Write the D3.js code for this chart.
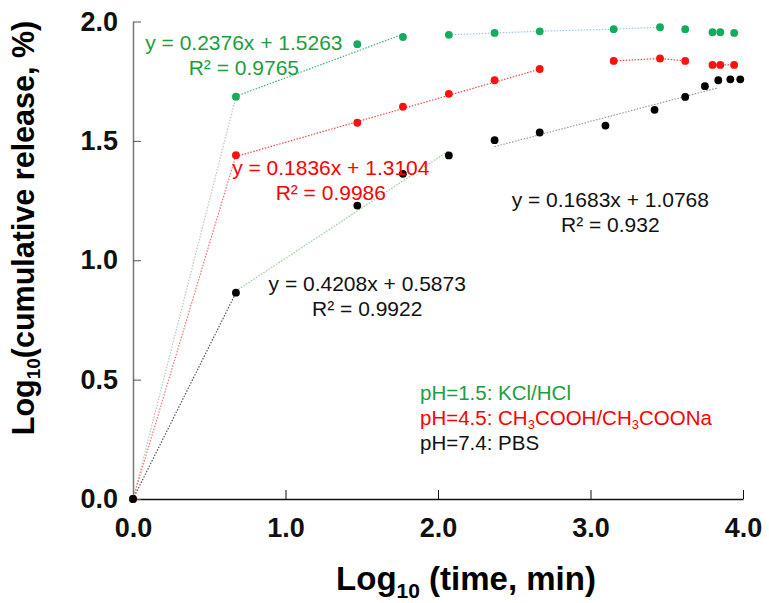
<!DOCTYPE html>
<html>
<head>
<meta charset="utf-8">
<script src="https://cdn.jsdelivr.net/npm/d3@7"></script>
<style>
  body { margin: 0; background: #fff; }
  text { font-family: "Liberation Sans", Arial, sans-serif; }
</style>
</head>
<body>
<div id="chart"></div>
<script>
// log10(time, min) and log10(cumulative release, %) per medium
var logT15 = [0, 0.675, 1.471, 1.770, 2.071, 2.371, 2.667, 3.152, 3.456, 3.621, 3.800, 3.851, 3.942];
var logR15 = [0, 1.685, 1.905, 1.935, 1.944, 1.952, 1.959, 1.968, 1.976, 1.968, 1.955, 1.955, 1.952];
var logT45 = [0, 0.675, 1.471, 1.770, 2.071, 2.371, 2.667, 3.152, 3.456, 3.621, 3.800, 3.851, 3.942];
var logR45 = [0, 1.440, 1.576, 1.643, 1.697, 1.754, 1.801, 1.835, 1.845, 1.835, 1.818, 1.818, 1.818];
var logT74 = [0, 0.675, 1.471, 1.770, 2.071, 2.371, 2.667, 3.098, 3.420, 3.621, 3.750, 3.838, 3.917, 3.982];
var logR74 = [0, 0.864, 1.229, 1.362, 1.439, 1.503, 1.535, 1.564, 1.630, 1.684, 1.729, 1.754, 1.758, 1.758];

// linear fits (Excel trendlines)
var fitSlope = [0.2376, 0.1836, 0.4208, 0.1683];
var fitIntercept = [1.5263, 1.3104, 0.5873, 1.0768];
var fitR2 = ['0.9765', '0.9986', '0.9922', '0.932'];
var fitFrom = [0.675, 0.675, 0.675, 2.371];
var fitTo = [1.770, 2.667, 2.070, 3.833];

var xTicks = [0, 1, 2, 3, 4];
var yTicks = [0, 0.5, 1, 1.5, 2];

(function() {
    var width = 769,
        height = 603,
        margin = {top: 21.5, right: 26, bottom: 104, left: 133},
        green = '#1b9e3e',
        greenDot = '#13ac5c',
        red = '#ff1010',
        black = '#000';

    var svg = d3.select('#chart').append('svg')
        .attr('width', width)
        .attr('height', height);

    var x = d3.scaleLinear().domain([0, 4]).range([margin.left, width - margin.right]);
    var y = d3.scaleLinear().domain([0, 2]).range([height - margin.bottom, margin.top]);

    // axes, ticks point inwards
    var xAxis = svg.append('g')
        .attr('transform', 'translate(0,' + y(0) + ')')
        .call(d3.axisBottom(x).tickValues(xTicks).tickSizeInner(-9).tickSizeOuter(0)
            .tickPadding(19).tickFormat(d3.format('.1f')));
    xAxis.select('.domain').attr('stroke', '#111').attr('stroke-width', 1.3);
    xAxis.selectAll('.tick line').attr('stroke', '#111');
    xAxis.selectAll('.tick text')
        .attr('font-size', 27).attr('font-weight', 'bold').attr('fill', '#111')
        .attr('font-family', '"Liberation Sans", Arial, sans-serif');

    var yAxis = svg.append('g')
        .attr('transform', 'translate(' + x(0) + ',0)')
        .call(d3.axisLeft(y).tickValues(yTicks).tickSizeInner(-8).tickSizeOuter(0)
            .tickPadding(15).tickFormat(d3.format('.1f')));
    yAxis.select('.domain').attr('stroke', '#777').attr('stroke-width', 1.5);
    yAxis.selectAll('.tick line').attr('stroke', '#555');
    yAxis.selectAll('.tick text')
        .attr('font-size', 27).attr('font-weight', 'bold').attr('fill', '#111')
        .attr('font-family', '"Liberation Sans", Arial, sans-serif');

    // axis titles
    var xt = svg.append('text')
        .attr('x', (x(0) + x(4)) / 2 + 28)
        .attr('y', 590)
        .attr('text-anchor', 'middle')
        .attr('font-size', 33)
        .attr('font-weight', 'bold');
    xt.append('tspan').text('Log');
    xt.append('tspan').attr('font-size', 21).attr('dy', 8).text('10');
    xt.append('tspan').attr('dy', -8).text(' (time, min)');

    var yt = svg.append('text')
        .attr('transform', 'translate(34,' + 228 + ') rotate(-90)')
        .attr('text-anchor', 'middle')
        .attr('font-size', 30.5)
        .attr('font-weight', 'bold');
    yt.append('tspan').text('Log');
    yt.append('tspan').attr('font-size', 19).attr('dy', 6).text('10');
    yt.append('tspan').attr('dy', -6).text('(cumulative release, %)');

    var line = d3.line().x(function(d) { return x(d[0]); }).y(function(d) { return y(d[1]); });

    function pts(xs, ys, i0, i1) {
        var out = [];
        for (var i = i0; i <= i1; i++) out.push([xs[i], ys[i]]);
        return out;
    }

    function fitLine(k) {
        return [[fitFrom[k], fitSlope[k] * fitFrom[k] + fitIntercept[k]],
                [fitTo[k], fitSlope[k] * fitTo[k] + fitIntercept[k]]];
    }

    function dotted(data, color) {
        svg.append('path')
            .attr('d', line(data))
            .attr('fill', 'none')
            .attr('stroke', color)
            .attr('stroke-width', 1.2)
            .attr('stroke-dasharray', '1.5,1.5');
    }

    // connecting lines and trendlines
    dotted(pts(logT15, logR15, 0, 1), '#b5c9b5');
    dotted(pts(logT45, logR45, 0, 1), '#f07070');
    dotted(pts(logT74, logR74, 0, 1), '#555');
    dotted(fitLine(0), '#40b070');
    dotted(fitLine(1), '#f04848');
    dotted(fitLine(2), '#8fd08f');
    dotted(fitLine(3), '#9a9a9a');
    dotted(pts(logT15, logR15, 4, 8), '#9cc6e0');
    dotted(pts(logT45, logR45, 7, 9), '#f04848');
    dotted(pts(logT45, logR45, 10, 12), '#f04848');

    // points
    function dots(xs, ys, color) {
        svg.append('g').selectAll('circle')
            .data(xs.map(function(d, i) { return [d, ys[i]]; }))
            .enter().append('circle')
            .attr('cx', function(d) { return x(d[0]); })
            .attr('cy', function(d) { return y(d[1]); })
            .attr('r', 3.9)
            .attr('fill', color);
    }
    dots(logT15, logR15, greenDot);
    dots(logT45, logR45, red);
    dots(logT74, logR74, black);

    // equations
    var eqPos = [[0.727, 1.91], [1.297, 1.387], [1.536, 0.901], [3.13, 1.253]];
    var eqColor = [green, '#ff0000', '#111', '#111'];
    eqPos.forEach(function(p, k) {
        svg.append('text')
            .attr('x', x(p[0])).attr('y', y(p[1]))
            .attr('dy', '0.35em')
            .attr('text-anchor', 'middle')
            .attr('font-size', 21)
            .attr('fill', eqColor[k])
            .text('y = ' + fitSlope[k] + 'x + ' + fitIntercept[k]);
        svg.append('text')
            .attr('x', x(p[0]) + 0).attr('y', y(p[1]) + 24.5)
            .attr('dy', '0.35em')
            .attr('text-anchor', 'middle')
            .attr('font-size', 21)
            .attr('fill', eqColor[k])
            .text('R\u00b2 = ' + fitR2[k]);
    });

    // legend
    var lg = svg.append('g').attr('transform', 'translate(420,393)').attr('font-size', 20.5);
    lg.append('text').attr('dy', '0.35em').attr('fill', green).text('pH=1.5: KCl/HCl');
    var l2 = lg.append('text').attr('y', 24.5).attr('dy', '0.35em').attr('fill', '#ff0000');
    l2.append('tspan').text('pH=4.5: CH');
    l2.append('tspan').attr('font-size', 13).attr('dy', 4).text('3');
    l2.append('tspan').attr('dy', -4).text('COOH/CH');
    l2.append('tspan').attr('font-size', 13).attr('dy', 4).text('3');
    l2.append('tspan').attr('dy', -4).text('COONa');
    lg.append('text').attr('y', 49.5).attr('dy', '0.35em').attr('fill', '#111').text('pH=7.4: PBS');
})();
</script>
</body>
</html>
